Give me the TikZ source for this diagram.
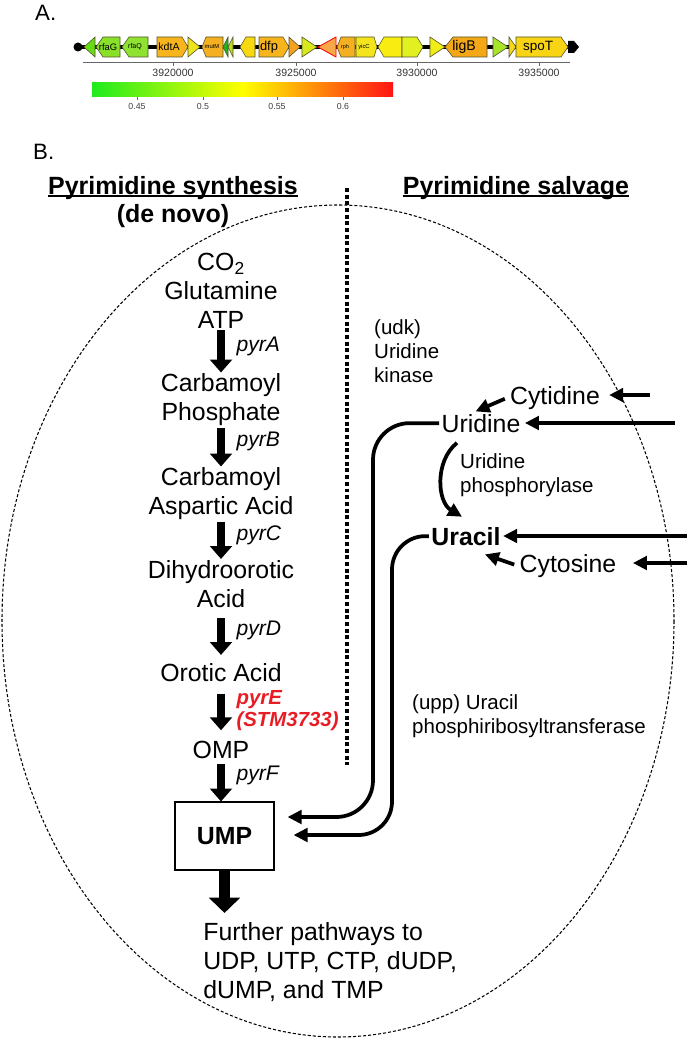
\documentclass[tikz,border=0pt]{standalone}
\usepackage{fontspec}
\setmainfont{Liberation Sans}
\usepackage{tikz}
\usetikzlibrary{arrows.meta}
\usetikzlibrary{positioning}

\definecolor{stmred}{RGB}{232,28,36}
\definecolor{geneedge}{RGB}{85,85,45}
\definecolor{gGreen}{RGB}{102,221,17}
\definecolor{gLime}{RGB}{136,224,40}
\definecolor{gLimeB}{RGB}{143,226,48}
\definecolor{gOrange}{RGB}{248,180,28}
\definecolor{gYellow}{RGB}{236,228,28}
\definecolor{gAmber}{RGB}{244,176,32}
\definecolor{gDark}{RGB}{32,176,32}
\definecolor{gYgreen}{RGB}{184,224,32}
\definecolor{gSun}{RGB}{248,216,16}
\definecolor{gTang}{RGB}{244,160,32}
\definecolor{gChart}{RGB}{216,232,28}
\definecolor{gPyrE}{RGB}{248,168,72}
\definecolor{gLemon}{RGB}{244,228,28}
\definecolor{gYtwo}{RGB}{248,236,16}
\definecolor{gYthree}{RGB}{224,240,32}
\definecolor{gYfour}{RGB}{240,236,24}
\definecolor{gLig}{RGB}{244,168,24}
\definecolor{gYfive}{RGB}{168,228,40}
\definecolor{gYsix}{RGB}{244,216,24}
\definecolor{gSpo}{RGB}{248,212,20}
\definecolor{barGreen}{RGB}{30,235,30}
\definecolor{barYellow}{RGB}{255,255,0}
\definecolor{barOrange}{RGB}{255,165,0}
\definecolor{barRed}{RGB}{255,20,20}

% gene arrows: x1, x2, tip length, fill
\newcommand{\geneR}[4]{\filldraw[gene,fill=#4] (#1,37) -- ({#2-#3},37) -- (#2,47) -- ({#2-#3},57) -- (#1,57) -- cycle;}
\newcommand{\geneL}[4]{\filldraw[gene,fill=#4] (#2,37) -- ({#1+#3},37) -- (#1,47) -- ({#1+#3},57) -- (#2,57) -- cycle;}

\tikzset{>=Stealth,
  panel/.style={inner sep=0pt, anchor=base west, font=\fontsize{19}{19}\selectfont},
  gene/.style={draw=geneedge, line width=0.5pt},
  genelab/.style={inner sep=0pt},
  ticklab/.style={inner sep=0pt, text=black!80, font=\fontsize{9}{9}\selectfont},
  barlab/.style={inner sep=0pt, text=black!75, font=\fontsize{7.5}{7.5}\selectfont},
  compound/.style={inner sep=1pt, align=center, font=\fontsize{21.2}{24.8}\selectfont},
  enzyme/.style={right=0.31cm, yshift=0.16cm, inner sep=1pt, font=\fontsize{18}{18}\selectfont\itshape},
  salvage/.style={inner sep=2pt, anchor=base, font=\fontsize{21.2}{24.8}\selectfont},
  note/.style={inner sep=0pt, anchor=west, align=left, font=\fontsize{17.5}{20.5}\selectfont},
  heading/.style={inner sep=0pt, anchor=base, font=\fontsize{21.3}{25}\selectfont\bfseries},
  path arrow/.style={line width=7pt, -{Triangle[length=11pt,width=18.5pt]}},
  main arrow/.style={line width=9.5pt, -{Triangle[length=13pt,width=26pt]}},
  thin arrow/.style={line width=3.2pt, -{Triangle[length=12pt,width=11.5pt]}},
  divider/.style={line width=3.4pt, dash pattern=on 3.4pt off 2.3pt},
  cell/.style={line width=0.9pt, dash pattern=on 2.6pt off 1.7pt},
}

\begin{document}
\begin{tikzpicture}[x=0.03cm, y=-0.03cm]
    \useasboundingbox (0,0) rectangle (687,1041);

    % A. gene map
    \node[panel] (A) at (35,21) {A.};
    \draw[line width=2.6pt] (78,47) -- (570,47);
    \fill (78,47) circle [radius=4.5];
    \geneL{84}{95}{11}{gGreen}
    \geneL{96}{120}{7}{gLime}
    \geneL{122}{148}{7}{gLimeB}
    \geneR{157}{188}{6}{gOrange}
    \geneR{188}{200}{12}{gYellow}
    \geneL{202}{223}{4}{gAmber}
    \geneL{223}{228}{5}{gDark}
    \geneL{228}{233}{5}{gYgreen}
    \geneL{240}{255}{6}{gSun}
    \geneR{259}{289}{6}{gOrange}
    \geneR{289}{300}{11}{gTang}
    \geneR{302}{317}{15}{gChart}
    \filldraw[draw=red, line width=0.7pt, fill=gPyrE] (336,37) -- (318,47) -- (336,57) -- cycle;
    \geneL{337}{355}{4}{gAmber}
    \geneR{356}{377}{3}{gLemon}
    \geneL{378}{402}{6}{gYtwo}
    \geneR{402}{423}{6}{gYthree}
    \geneR{430}{445}{15}{gYfour}
    \geneL{445}{487}{8}{gLig}
    \geneR{493}{508}{15}{gYfive}
    \geneR{509}{516}{7}{gYsix}
    \geneR{516}{568}{7}{gSpo}
    \fill (568,41) -- (574,41) -- (579,47) -- (574,53) -- (568,53) -- cycle;

    \node[genelab, font=\fontsize{8}{8}\selectfont] (rfaG) at (108,47) {rfaG};
    \node[genelab, font=\fontsize{6}{6}\selectfont] (rfaQ) at (135,47) {rfaQ};
    \node[genelab, font=\fontsize{9}{9}\selectfont] (kdtA) at (169,47) {kdtA};
    \node[genelab, font=\fontsize{5}{5}\selectfont] (mutM) at (212,47) {mutM};
    \node[genelab, font=\fontsize{11}{11}\selectfont] (dfp) at (269,47) {dfp};
    \node[genelab, font=\fontsize{4.7}{4.7}\selectfont] (rph) at (345,47) {rph};
    \node[genelab, font=\fontsize{5}{5}\selectfont] (yicC) at (364,47) {yicC};
    \node[genelab, font=\fontsize{12}{12}\selectfont] (ligB) at (464,47) {ligB};
    \node[genelab, font=\fontsize{11.5}{11.5}\selectfont] (spoT) at (538,47) {spoT};

    \draw[black!60, line width=0.8pt] (83,62) -- (570,62);
    \foreach \x/\t in {173/3920000, 296/3925000, 417/3930000, 539/3935000} {
      \draw[black!60, line width=0.8pt] (\x,62) -- (\x,66);
      \node[ticklab] (tick\x) at (\x,73) {\t};
    }

    \shade[left color=barGreen, right color=barYellow] (92,83) rectangle (243,97);
    \shade[left color=barYellow, middle color=barOrange, right color=barRed] (242.5,83) rectangle (393,97);
    \foreach \x/\t in {137/0.45, 203/0.5, 277/0.55, 343/0.6} {
      \draw[black!60, line width=0.4pt] (\x,97) -- (\x,100);
      \node[barlab] (bar\x) at (\x,106) {\t};
    }

    % B. pathway
    \node[panel] (B) at (33,159) {B.};
    \draw[cell] (338,621) ellipse [x radius=336, y radius=416];
    \draw[divider] (347,188) -- (347,765);

    \node[heading] (synth) at (173,194) {Pyrimidine synthesis};
    \draw[line width=1.5pt] ([yshift=-2pt]synth.base west) -- ([yshift=-2pt]synth.base east);
    \node[heading] (novo) at (173,222) {(de novo)};
    \node[heading] (salv) at (516,194) {Pyrimidine salvage};
    \draw[line width=1.5pt] ([yshift=-2pt]salv.base west) -- ([yshift=-2pt]salv.base east);

    % de novo column
    \node[compound] (atp) at (221,291) {CO\textsubscript{2}\\Glutamine\\ATP};
    \node[compound] (cp) at (221,400) {Carbamoyl\\Phosphate};
    \node[compound] (caa) at (221,494) {Carbamoyl\\Aspartic Acid};
    \node[compound] (dho) at (221,584) {Dihydroorotic\\Acid};
    \node[compound, anchor=base] (oro) at (221,681) {Orotic Acid};
    \node[compound, anchor=base] (omp) at (221,758) {OMP};
    \node[draw, line width=0.9pt, minimum width=2.97cm, minimum height=2.04cm,
          font=\fontsize{21.2}{24.8}\selectfont\bfseries] (ump) at (224.5,836) {UMP};
    \node[compound, anchor=west, align=left] (further) at (202,962)
        {Further pathways to\\UDP, UTP, CTP, dUDP,\\dUMP, and TMP};

    \draw[path arrow] (atp.south) -- node[enzyme] {pyrA} (cp.north);
    \draw[path arrow] (cp.south) -- node[enzyme] {pyrB} (caa.north);
    \draw[path arrow] (caa.south) -- node[enzyme] {pyrC} (dho.north);
    \draw[path arrow, shorten <=0.27cm, shorten >=0.2cm] (dho.south) -- node[enzyme] {pyrD} (oro.north);
    \draw[path arrow, shorten <=0.33cm, shorten >=0.27cm] (oro.south) --
        node[enzyme, yshift=-0.16cm, align=left, text=stmred, font=\fontsize{17.4}{18.8}\selectfont\bfseries\itshape]
        {pyrE\\(STM3733)} (omp.north);
    \draw[path arrow, shorten <=0.12cm] (omp.south) -- node[enzyme] {pyrF} (omp.south |- ump.north);
    \draw[main arrow, shorten >=0.24cm] (ump.south) -- (ump.south |- further.north);

    % salvage side
    \node[note] (udk) at (374,351) {(udk)\\Uridine\\kinase};
    \node[salvage] (cytidine) at (555,404) {Cytidine};
    \node[salvage] (uridine) at (481,432) {Uridine};
    \node[salvage, font=\fontsize{21.2}{24.8}\selectfont\bfseries] (uracil) at (466,545) {Uracil};
    \node[salvage] (cytosine) at (568,572) {Cytosine};
    \node[note, align=left] (udp) at (460,475) {Uridine\\phosphorylase};
    \node[note] (upp) at (412,716) {(upp) Uracil\\phosphiribosyltransferase};

    \coordinate (cyd in) at (650,395);
    \coordinate (urd in) at (675,423);
    \coordinate (ura in) at (687,536);
    \coordinate (cyt in) at (687,563);
    \coordinate (uri drop) at (373,817);
    \coordinate (ura drop) at (392,835);

    \draw[thin arrow, shorten >=0.2cm] (cyd in) -- (cyd in -| cytidine.east);
    \draw[thin arrow, shorten >=0.06cm] (urd in) -- (urd in -| uridine.east);
    \draw[thin arrow] (ura in) -- (ura in -| uracil.east);
    \draw[thin arrow, shorten >=0.42cm] (cyt in) -- (cyt in -| cytosine.east);

    \draw[thin arrow, shorten <=0.09cm] (cytidine.west) -- (uridine.115);
    \draw[thin arrow, shorten <=0.09cm, shorten >=0.6cm] (cytosine.west) -- (uracil.south);
    \draw[thin arrow] ([xshift=-0.72cm,yshift=-0.24cm]uridine.south) to[bend right=55]
        ([xshift=-0.12cm,yshift=0.23cm]uracil.north);

    \draw[thin arrow, rounded corners=1.1cm, shorten >=0.39cm] (uridine.west) -| (uri drop) -- (uri drop -| ump.east);
    \draw[thin arrow, rounded corners=1.0cm, shorten >=0.57cm] (uracil.west) -| (ura drop) -- (ura drop -| ump.east);
\end{tikzpicture}
\end{document}
